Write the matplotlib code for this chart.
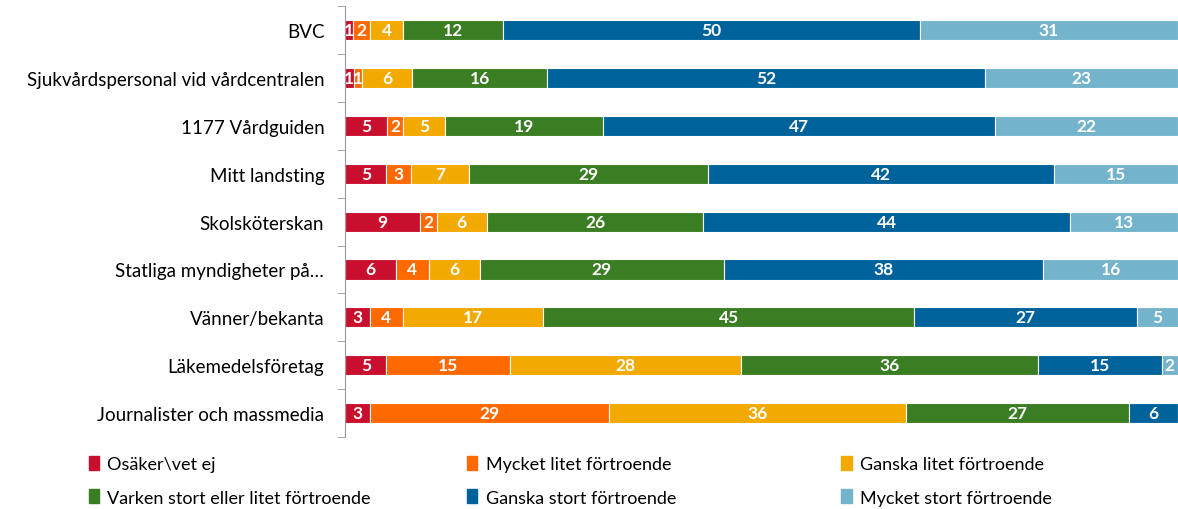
import matplotlib.pyplot as plt
import numpy as np
from matplotlib.patches import Patch

plt.rcParams['font.family'] = ['Lato', 'DejaVu Sans']

categories = ['BVC', 'Sjukvårdspersonal vid vårdcentralen', '1177 Vårdguiden',
              'Mitt landsting', 'Skolsköterskan', 'Statliga myndigheter på…',
              'Vänner/bekanta', 'Läkemedelsföretag', 'Journalister och massmedia']
series = ['Osäker\\vet ej', 'Mycket litet förtroende', 'Ganska litet förtroende',
          'Varken stort eller litet förtroende', 'Ganska stort förtroende',
          'Mycket stort förtroende']
osaker = [1, 1, 5, 5, 9, 6, 3, 5, 3]
mycket_litet = [2, 1, 2, 3, 2, 4, 4, 15, 29]
ganska_litet = [4, 6, 5, 7, 6, 6, 17, 28, 36]
varken = [12, 16, 19, 29, 26, 29, 45, 36, 27]
ganska_stort = [50, 52, 47, 42, 44, 38, 27, 15, 6]
mycket_stort = [31, 23, 22, 15, 13, 16, 5, 2, 0]
colors = ['#C8102E', '#FF6A00', '#F2A900', '#3A7D22', '#00629B', '#74B3CC']

data = np.array([osaker, mycket_litet, ganska_litet, varken, ganska_stort, mycket_stort],
                dtype=float)
# rounded percentages; scale each row so it fills 100 %
totals = data.sum(axis=0)
shares = data / totals * 100

fig = plt.figure(figsize=(11.78, 5.10), dpi=100)
ax = fig.add_axes([0.293, 0.141, 0.707, 0.845])

y = np.arange(len(categories))
left = np.zeros(len(categories))
for vals, widths, col, name in zip(data, shares, colors, series):
    bars = ax.barh(y, widths, left=left, height=0.42, color=col,
                   edgecolor='white', linewidth=0.8, label=name)
    for b, v in zip(bars, vals):
        if v > 0:
            ax.text(b.get_x() + b.get_width() / 2, b.get_y() + b.get_height() / 2,
                    f'{int(v)}', ha='center', va='center', color='white',
                    fontsize=12.5, fontweight='bold', clip_on=True)
    left += widths

ax.set_xlim(0, 100)
ax.set_ylim(len(categories) - 0.5, -0.5)
ax.set_yticks(y)
ax.set_yticklabels(categories, fontsize=13.5)
ax.set_yticks(np.arange(-0.5, len(categories)), minor=True)
ax.tick_params(axis='y', which='major', length=0, pad=15)
ax.tick_params(axis='y', which='minor', length=6, color='#999999')
ax.set_xticks([])
for s in ['top', 'right', 'bottom']:
    ax.spines[s].set_visible(False)
ax.spines['left'].set_color('#999999')

# legend in three columns, row-wise order
xs = [0.069, 0.390, 0.708]
for i, x in enumerate(xs):
    handles = [Patch(color=colors[i], label=series[i]),
               Patch(color=colors[i + 3], label=series[i + 3])]
    fig.legend(handles=handles, loc='upper left', bbox_to_anchor=(x, 0.118),
               frameon=False, fontsize=13, handlelength=0.6, handleheight=0.8,
               handletextpad=0.45, labelspacing=0.95, borderaxespad=0)

plt.savefig('out.png', dpi=100)
